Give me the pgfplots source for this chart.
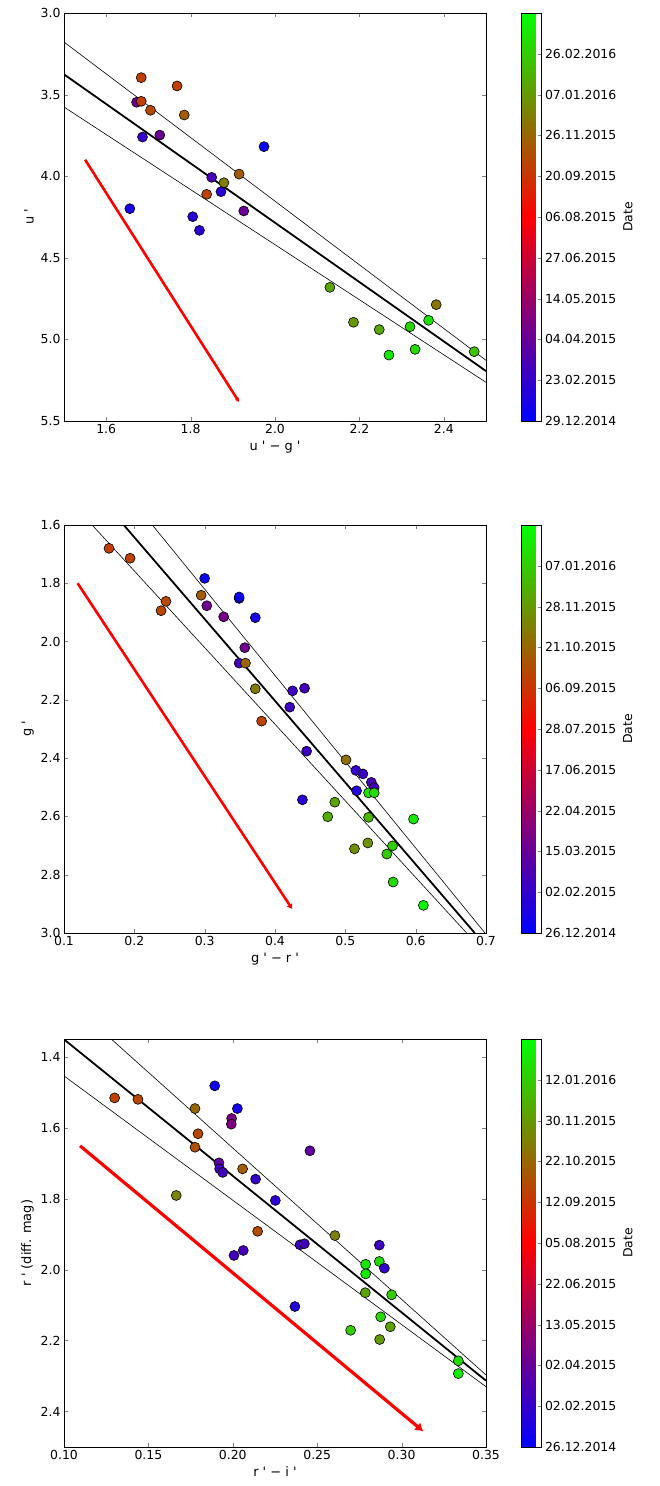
\documentclass[border=0pt]{standalone}
\usepackage{fontspec}
\setmainfont{DejaVu Sans}
\usepackage{pgfplots}
\usepackage{pgfplotstable}
\pgfplotsset{compat=1.18}
\usetikzlibrary{arrows.meta}

\pgfplotsset{
  colormap={brg}{rgb=(0,0,1) rgb=(1,0,0) rgb=(0,1,0)},
  panel/.style={
    scale only axis, width=422bp, height=408bp,
    y dir=reverse,
    font=\fontsize{12.5}{15}\selectfont,
    /pgf/number format/assume math mode=true,
    tick align=inside, major tick length=4bp,
    point meta min=0, point meta max=1,
    colorbar,
    label style={font=\fontsize{13}{15}\selectfont},
  },
  cb/.style={
    at={(parent axis.north east)}, anchor=north west, xshift=27bp,
    scale only axis, width=20bp, height=408bp,
    ytick={0,0.1,0.2,0.3,0.4,0.5,0.6,0.7,0.8,0.9},
    yticklabels={#1},
    ytick pos=right, yticklabel pos=right,
    tick align=inside, major tick length=4bp,
    ylabel=Date, ylabel near ticks,
    font=\fontsize{12.5}{15}\selectfont,
    /pgf/number format/assume math mode=true,
  },
  pts/.style={scatter, only marks, mark=*, mark size=5bp,
    point meta=explicit,
    scatter/use mapped color={draw=black, fill=mapped color},
    line width=0.6bp},
}

\pgfplotstableread{
x y c
1.683 3.396 0.62
1.768 3.447 0.62
1.672 3.547 0.22
1.683 3.541 0.63
1.705 3.596 0.64
1.785 3.625 0.68
1.686 3.760 0.10
1.727 3.748 0.21
1.974 3.819 0.02
1.915 3.987 0.68
1.850 4.007 0.14
1.879 4.040 0.75
1.872 4.095 0.08
1.838 4.111 0.63
1.656 4.199 0.05
1.926 4.213 0.21
1.805 4.248 0.08
1.821 4.332 0.08
2.130 4.681 0.82
2.186 4.895 0.80
2.247 4.940 0.83
2.270 5.096 0.96
2.320 4.922 0.92
2.332 5.061 0.93
2.364 4.883 0.95
2.382 4.787 0.73
2.472 5.075 0.88
}\dataA

\pgfplotstableread{
x y c
0.164 1.680 0.62
0.194 1.714 0.63
0.300 1.783 0.02
0.295 1.841 0.68
0.245 1.862 0.64
0.349 1.852 0.05
0.349 1.847 0.03
0.303 1.877 0.22
0.238 1.894 0.64
0.327 1.915 0.23
0.372 1.918 0.04
0.357 2.021 0.22
0.349 2.074 0.13
0.358 2.074 0.70
0.372 2.162 0.74
0.425 2.169 0.12
0.442 2.160 0.13
0.421 2.225 0.12
0.381 2.273 0.63
0.445 2.376 0.12
0.501 2.406 0.72
0.515 2.442 0.10
0.525 2.454 0.12
0.537 2.483 0.14
0.541 2.501 0.14
0.516 2.512 0.07
0.533 2.519 0.95
0.541 2.519 0.93
0.439 2.543 0.08
0.485 2.551 0.82
0.475 2.601 0.84
0.533 2.603 0.86
0.597 2.609 0.96
0.532 2.691 0.79
0.513 2.711 0.78
0.567 2.701 0.90
0.559 2.729 0.90
0.568 2.825 0.93
0.611 2.905 0.98
}\dataB

\pgfplotstableread{
x y c
0.1300 1.516 0.63
0.1438 1.520 0.64
0.1893 1.482 0.03
0.1776 1.546 0.70
0.2027 1.546 0.04
0.1993 1.574 0.24
0.1991 1.590 0.25
0.1794 1.617 0.64
0.1776 1.655 0.66
0.2457 1.665 0.19
0.1918 1.699 0.19
0.1922 1.716 0.13
0.1940 1.726 0.13
0.2058 1.716 0.68
0.2135 1.745 0.10
0.1665 1.791 0.76
0.2252 1.805 0.08
0.2147 1.892 0.65
0.2605 1.904 0.75
0.2398 1.930 0.12
0.2424 1.927 0.13
0.2868 1.931 0.12
0.2062 1.946 0.14
0.2007 1.960 0.13
0.2868 1.977 0.93
0.2787 1.985 0.95
0.2898 1.996 0.10
0.2787 2.012 0.96
0.2785 2.065 0.82
0.2941 2.071 0.90
0.2368 2.104 0.07
0.2876 2.133 0.92
0.2933 2.161 0.82
0.2698 2.171 0.90
0.2870 2.197 0.80
0.3336 2.257 0.93
0.3336 2.293 0.97
}\dataC

\begin{document}
\begin{tikzpicture}
\useasboundingbox (0,0) rectangle (660bp,-1486bp);

% ---------- Panel 1 ----------
\begin{axis}[panel, at={(64bp,-13bp)}, anchor=north west,
  xmin=1.5, xmax=2.5, ymin=3.0, ymax=5.5,
  xtick={1.6,1.8,2.0,2.2,2.4},
  ytick={3.0,3.5,4.0,4.5,5.0,5.5},
  xticklabel style={/pgf/number format/.cd, fixed, fixed zerofill, precision=1},
  yticklabel style={/pgf/number format/.cd, fixed, fixed zerofill, precision=1},
  xlabel={u \textquotesingle\ − g \textquotesingle},
  ylabel={u \textquotesingle},
  colorbar style={cb={29.12.2014,23.02.2015,04.04.2015,14.05.2015,27.06.2015,06.08.2015,20.09.2015,26.11.2015,07.01.2016,26.02.2016}},
]
\addplot[black, line width=0.6bp] coordinates {(1.5,3.178) (2.5,5.128)};
\addplot[black, line width=0.6bp] coordinates {(1.5,3.576) (2.5,5.263)};
\addplot[black, line width=1.8bp] coordinates {(1.5,3.376) (2.5,5.194)};
\addplot[red, line width=2.6bp, -{Latex[length=4bp,width=5bp]}] coordinates {(1.550,3.899) (1.915,5.384)};
\addplot[pts] table[x=x, y=y, meta=c] {\dataA};
\end{axis}

% ---------- Panel 2 ----------
\begin{axis}[panel, at={(64bp,-525bp)}, anchor=north west,
  xmin=0.1, xmax=0.7, ymin=1.6, ymax=3.0,
  xtick={0.1,0.2,0.3,0.4,0.5,0.6,0.7},
  ytick={1.6,1.8,2.0,2.2,2.4,2.6,2.8,3.0},
  xticklabel style={/pgf/number format/.cd, fixed, fixed zerofill, precision=1},
  yticklabel style={/pgf/number format/.cd, fixed, fixed zerofill, precision=1},
  xlabel={g \textquotesingle\ − r \textquotesingle},
  ylabel={g \textquotesingle},
  colorbar style={cb={26.12.2014,02.02.2015,15.03.2015,22.04.2015,17.06.2015,28.07.2015,06.09.2015,21.10.2015,28.11.2015,07.01.2016}},
]
\addplot[black, line width=0.6bp] coordinates {(0.2256,1.6) (0.6986,3.0)};
\addplot[black, line width=0.6bp] coordinates {(0.140,1.6) (0.6725,3.0)};
\addplot[black, line width=1.8bp] coordinates {(0.185,1.6) (0.684,3.0)};
\addplot[red, line width=2.6bp, -{Latex[length=5bp,width=7bp]}] coordinates {(0.1194,1.800) (0.4246,2.918)};
\addplot[pts] table[x=x, y=y, meta=c] {\dataB};
\end{axis}

% ---------- Panel 3 ----------
\begin{axis}[panel, at={(64bp,-1039bp)}, anchor=north west,
  xmin=0.10, xmax=0.35, ymin=1.35, ymax=2.5,
  xtick={0.10,0.15,0.20,0.25,0.30,0.35},
  ytick={1.4,1.6,1.8,2.0,2.2,2.4},
  xticklabel style={/pgf/number format/.cd, fixed, fixed zerofill, precision=2},
  yticklabel style={/pgf/number format/.cd, fixed, fixed zerofill, precision=1},
  xlabel={r \textquotesingle\ − i \textquotesingle},
  ylabel={r \textquotesingle\ (diff. mag)},
  colorbar style={cb={26.12.2014,02.02.2015,02.04.2015,13.05.2015,22.06.2015,05.08.2015,12.09.2015,22.10.2015,30.11.2015,12.01.2016}},
]
\addplot[black, line width=0.6bp] coordinates {(0.1282,1.351) (0.35,2.297)};
\addplot[black, line width=0.6bp] coordinates {(0.10,1.454) (0.35,2.330)};
\addplot[black, line width=1.8bp] coordinates {(0.10,1.351) (0.35,2.313)};
\addplot[red, line width=3.2bp, -{Latex[length=8bp,width=10bp]}] coordinates {(0.1095,1.651) (0.3129,2.456)};
\addplot[pts] table[x=x, y=y, meta=c] {\dataC};
\end{axis}
\end{tikzpicture}
\end{document}
